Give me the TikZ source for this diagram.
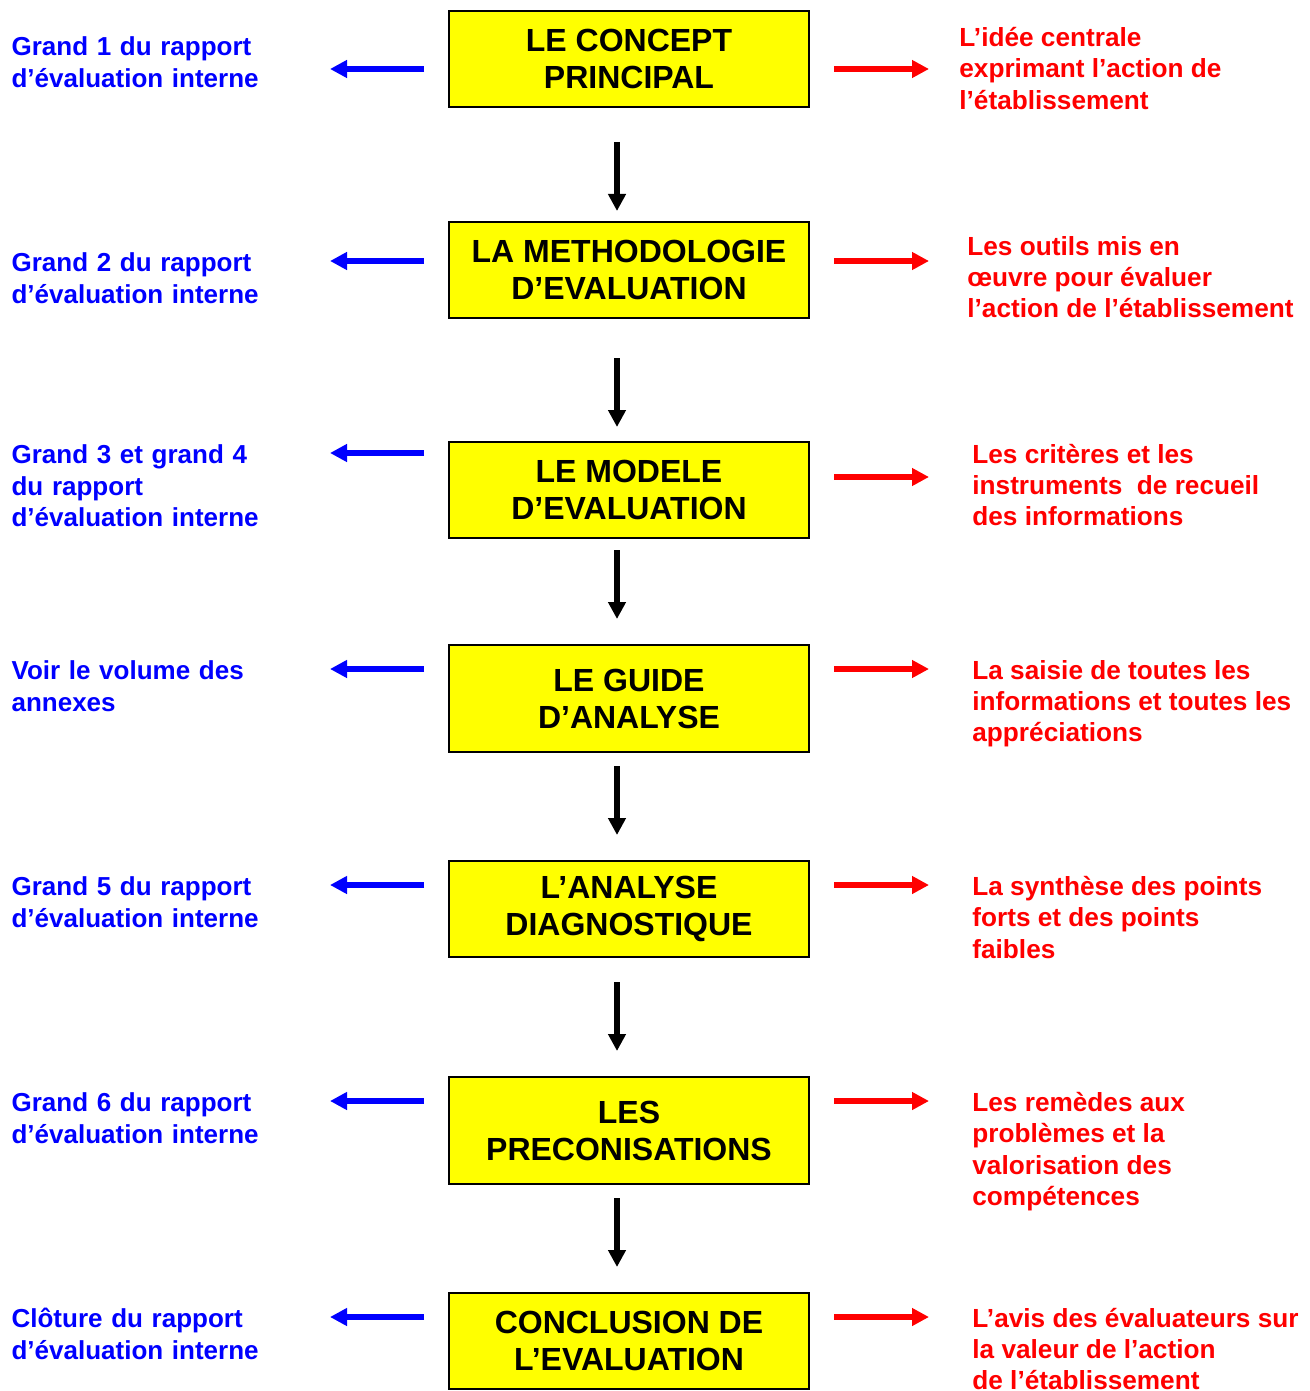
\documentclass[tikz,border=0pt]{standalone}
\usepackage{fontspec}
\setmainfont{Liberation Sans}
\usetikzlibrary{arrows.meta}
\definecolor{boxyellow}{RGB}{255,255,0}
\definecolor{refblue}{RGB}{0,0,255}
\definecolor{refred}{RGB}{255,0,0}
\tikzset{
	stagebox/.style={draw=black,line width=1pt,fill=boxyellow,minimum width=180pt,minimum height=48pt,
		inner sep=0pt,align=center,font=\fontsize{16}{18.5}\selectfont\bfseries},
	leftnote/.style={anchor=east,inner sep=0pt,text width=159pt,align=left,text=refblue,
		font=\fontsize{13}{15.75}\selectfont\bfseries},
	rightnote/.style={anchor=west,inner sep=0pt,align=left,text=refred,
		font=\fontsize{13.1}{15.6}\selectfont\bfseries},
	downarr/.style={line width=3pt,-{Triangle[length=8.5pt,width=8.5pt]}},
	bluearr/.style={refblue,line width=2.75pt,-{Triangle[length=8.5pt,width=8.5pt]},shorten <=12pt},
	redarr/.style={refred,line width=2.75pt,-{Triangle[length=8.5pt,width=8.5pt]},shorten <=12pt}
}
\begin{document}
\begin{tikzpicture}[x=0.5pt,y=-0.5pt]
	\useasboundingbox (0,0) rectangle (1310,1391);
	
	%STAGE BOXES
	\node[stagebox] (b1) at (629,59) {LE CONCEPT\\PRINCIPAL};
	\node[stagebox] (b2) at (629,270) {LA METHODOLOGIE\\D’EVALUATION};
	\node[stagebox] (b3) at (629,490) {LE MODELE\\D’EVALUATION};
	\node[stagebox,minimum height=53.5pt] (b4) at (629,698.5) {LE GUIDE\\D’ANALYSE};
	\node[stagebox] (b5) at (629,909) {L’ANALYSE\\DIAGNOSTIQUE};
	\node[stagebox,minimum height=53.5pt] (b6) at (629,1130.5) {LES\\PRECONISATIONS};
	\node[stagebox] (b7) at (629,1341) {CONCLUSION DE\\L’EVALUATION};
	
	%DOWN ARROWS
	\draw[downarr,shorten <=17pt,shorten >=5pt] ([xshift=-6pt]b1.south) -- ([xshift=-6pt]b2.north);
	\draw[downarr,shorten <=19.5pt,shorten >=7pt] ([xshift=-6pt]b2.south) -- ([xshift=-6pt]b3.north);
	\draw[downarr,shorten <=5.5pt,shorten >=12.5pt] ([xshift=-6pt]b3.south) -- ([xshift=-6pt]b4.north);
	\draw[downarr,shorten <=6.5pt,shorten >=12.5pt] ([xshift=-6pt]b4.south) -- ([xshift=-6pt]b5.north);
	\draw[downarr,shorten <=12pt,shorten >=12.5pt] ([xshift=-6pt]b5.south) -- ([xshift=-6pt]b6.north);
	\draw[downarr,shorten <=6.5pt,shorten >=12.5pt] ([xshift=-6pt]b6.south) -- ([xshift=-6pt]b7.north);
	
	%LEFT NOTES (RAPPORT)
	\node[leftnote] (l1) at (330,62) {Grand 1 du rapport\\d’évaluation interne};
	\node[leftnote] (l2) at (330,278) {Grand 2 du rapport\\d’évaluation interne};
	\node[leftnote] (l3) at (330,486) {Grand 3 et grand 4\\du rapport\\d’évaluation interne};
	\node[leftnote] (l4) at (330,686) {Voir le volume des\\annexes};
	\node[leftnote] (l5) at (330,902) {Grand 5 du rapport\\d’évaluation interne};
	\node[leftnote] (l6) at (330,1118) {Grand 6 du rapport\\d’évaluation interne};
	\node[leftnote] (l7) at (330,1334) {Clôture du rapport\\d’évaluation interne};
	
	%RIGHT NOTES (CONTENU)
	\node[rightnote] (r1) at (959,68.5) {L’idée centrale\\exprimant l’action de\\l’établissement};
	\node[rightnote] (r2) at (967,277) {Les outils mis en\\œuvre pour évaluer\\l’action de l’établissement};
	\node[rightnote] (r3) at (972,485) {Les critères et les\\instruments~ de recueil\\des informations};
	\node[rightnote] (r4) at (972,704) {La saisie de toutes les\\informations et toutes les\\appréciations};
	\node[rightnote] (r5) at (972,917.5) {La synthèse des points\\forts et des points\\faibles};
	\node[rightnote] (r6) at (972,1151.5) {Les remèdes aux\\problèmes et la\\valorisation des\\compétences};
	\node[rightnote] (r7) at (972,1349) {L’avis des évaluateurs sur\\la valeur de l’action\\de l’établissement};
	
	%BLUE ARROWS
	\draw[bluearr] ([yshift=-5pt]b1.west) -- ([yshift=-5pt]b1.west -| l1.east);
	\draw[bluearr] ([yshift=4.5pt]b2.west) -- ([yshift=4.5pt]b2.west -| l2.east);
	\draw[bluearr] ([yshift=18.5pt]b3.west) -- ([yshift=18.5pt]b3.west -| l3.east);
	\draw[bluearr] ([yshift=14.75pt]b4.west) -- ([yshift=14.75pt]b4.west -| l4.east);
	\draw[bluearr] ([yshift=12pt]b5.west) -- ([yshift=12pt]b5.west -| l5.east);
	\draw[bluearr] ([yshift=14.75pt]b6.west) -- ([yshift=14.75pt]b6.west -| l6.east);
	\draw[bluearr] ([yshift=12pt]b7.west) -- ([yshift=12pt]b7.west -| l7.east);
	
	%RED ARROWS
	\draw[redarr,shorten >=15pt] ([yshift=-5pt]b1.east) -- ([yshift=-5pt]b1.east -| r1.west);
	\draw[redarr,shorten >=19pt] ([yshift=4.5pt]b2.east) -- ([yshift=4.5pt]b2.east -| r2.west);
	\draw[redarr,shorten >=21.5pt] ([yshift=6.5pt]b3.east) -- ([yshift=6.5pt]b3.east -| r3.west);
	\draw[redarr,shorten >=21.5pt] ([yshift=14.75pt]b4.east) -- ([yshift=14.75pt]b4.east -| r4.west);
	\draw[redarr,shorten >=21.5pt] ([yshift=12pt]b5.east) -- ([yshift=12pt]b5.east -| r5.west);
	\draw[redarr,shorten >=21.5pt] ([yshift=14.75pt]b6.east) -- ([yshift=14.75pt]b6.east -| r6.west);
	\draw[redarr,shorten >=21.5pt] ([yshift=12pt]b7.east) -- ([yshift=12pt]b7.east -| r7.west);
\end{tikzpicture}
\end{document}
